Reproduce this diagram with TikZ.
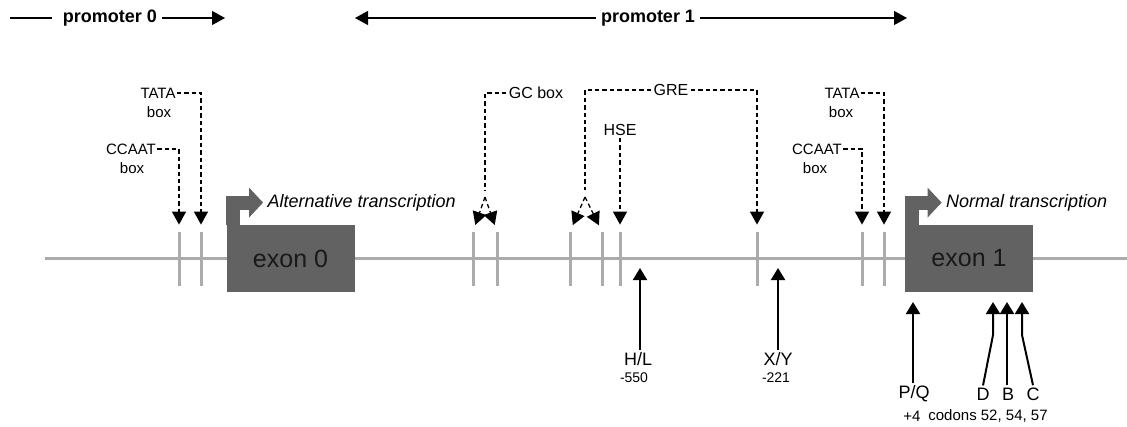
\documentclass[tikz,border=0pt]{standalone}
\usepackage{fontspec}
\setmainfont{Liberation Sans}
\usetikzlibrary{arrows.meta,positioning,calc}
\definecolor{dnagray}{HTML}{ABABAB}
\definecolor{exongray}{HTML}{626262}
\tikzset{>={Triangle[length=6.5pt,width=7pt]}}

\begin{document}
\begin{tikzpicture}[x=0.5pt,y=-0.5pt,
   tick/.style={fill=dnagray,minimum width=1.5pt,minimum height=27pt,inner sep=0},
   exon/.style={fill=exongray,minimum width=64pt,minimum height=33.5pt,inner sep=0,font=\fontsize{12.5}{14}\selectfont,text=black!90},
   bent/.style={line width=7pt,exongray,-{Triangle[length=7pt,width=14.5pt]}},
   tr/.style={font=\fontsize{9}{10}\selectfont\itshape,inner sep=1pt},
   site/.style={font=\fontsize{7.5}{8.5}\selectfont,inner sep=0.5pt},
   fac/.style={font=\fontsize{8}{9.5}\selectfont,inner sep=1pt},
   mut/.style={font=\fontsize{9}{10}\selectfont,inner sep=1pt},
   num/.style={font=\fontsize{7}{8}\selectfont,inner sep=1pt},
   prom/.style={font=\fontsize{9}{10}\selectfont\bfseries,inner sep=2.5pt},
   dsh/.style={dash pattern=on 2.2pt off 1.5pt,line width=0.65pt,->,shorten >=3.5pt},
   up/.style={line width=1pt,-{Triangle[length=6pt,width=7pt]}},
   pr/.style={line width=0.6pt}]
  \useasboundingbox (0,0) rectangle (1127,427);
  % promoter ranges
  \coordinate (p0a) at (10,18);
  \coordinate (p0b) at (225,18);
  \node[prom] (p0) at (110,18) {promoter 0};
  \draw[pr] (p0a) -- ++(42,0);
  \draw[pr,->] (p0.east) -- (p0b);
  \coordinate (p1a) at (355,18);
  \coordinate (p1b) at (907,18);
  \node[prom] (p1) at (648,18) {promoter 1};
  \draw[pr,->] (p1.west) -- (p1a);
  \draw[pr,->] (p1.east) -- (p1b);
  % dna strand
  \coordinate (dnaa) at (45,258);
  \coordinate (dnab) at (1127,258);
  \draw[dnagray,line width=1.5pt] (dnaa) -- (dnab);
  \node[tick] (ccaat0) at (179,259) {};
  \node[tick] (tata0) at (201,259) {};
  \node[tick] (gc1) at (473,259) {};
  \node[tick] (gc2) at (497,259) {};
  \node[tick] (gre1) at (570,259) {};
  \node[tick] (gre2) at (602,259) {};
  \node[tick] (hse) at (620,259) {};
  \node[tick] (gre3) at (757,259) {};
  \node[tick] (ccaat1) at (862,259) {};
  \node[tick] (tata1) at (884,259) {};
  \node[exon] (ex0) at (290.5,258.5) {exon 0};
  \node[exon] (ex1) at (969,258.5) {exon 1};
  \draw[bent] ([xshift=3.5pt]ex0.north west) -- ++(0,-22) -- ++(30,0) coordinate (alttip);
  \draw[bent] ([xshift=3.5pt]ex1.north west) -- ++(0,-22) -- ++(30,0) coordinate (normtip);
  \node[tr,anchor=west] (alt) at ([xshift=1pt]alttip) {Alternative transcription};
  \node[tr,anchor=west] (norm) at ([xshift=1pt]normtip) {Normal transcription};
  % binding sites
  \node[site] (lccaat0) at (131,149) {CCAAT};
  \node[site] (bccaat0) at (132,168) {box};
  \node[site] (ltata0) at (158,93) {TATA};
  \node[site] (btata0) at (159,112) {box};
  \node[site] (lccaat1) at (817,149) {CCAAT};
  \node[site] (bccaat1) at (815,168) {box};
  \node[site] (ltata1) at (842,93) {TATA};
  \node[site] (btata1) at (841,112) {box};
  \node[fac] (lgc) at (536,93) {GC box};
  \node[fac] (lgre) at (671,90) {GRE};
  \node[fac] (lhse) at (620,130) {HSE};
  \coordinate (gcsplit) at (485,197);
  \coordinate (gresplit) at (585,197);
  \draw[dsh] (lccaat0.east) -| (ccaat0.north);
  \draw[dsh] (ltata0.east) -| (tata0.north);
  \draw[dsh] (lccaat1.east) -| (ccaat1.north);
  \draw[dsh] (ltata1.east) -| (tata1.north);
  \draw[dsh,-] (lgc.west) -| (gcsplit);
  \draw[dsh] (gcsplit) -- (gc1.north);
  \draw[dsh] (gcsplit) -- (gc2.north);
  \draw[dsh,-] (lgre.west) -| (gresplit);
  \draw[dsh] (gresplit) -- (gre1.north);
  \draw[dsh] (gresplit) -- (gre2.north);
  \draw[dsh] (lgre.east) -| (gre3.north);
  \draw[dsh] (lhse.south) -- (hse.north);
  % polymorphisms
  \coordinate (sitehl) at (640,268);
  \coordinate (sitexy) at (778,268);
  \coordinate (sitepq) at (913,302);
  \coordinate (sited) at (993,302);
  \coordinate (siteb) at (1007,302);
  \coordinate (sitec) at (1022,302);
  \node[mut] (lhl) at (638,359) {H/L};
  \node[num] (nhl) at (634,378) {-550};
  \node[mut] (lxy) at (778,359) {X/Y};
  \node[num] (nxy) at (776,378) {-221};
  \node[mut] (lpq) at (914,394) {P/Q};
  \node[mut] (ld) at (983,394) {D};
  \node[mut] (lb) at (1008,394) {B};
  \node[mut] (lc) at (1033,394) {C};
  \node[num,font=\fontsize{7.5}{8.5}\selectfont] (npq) at (912,416) {+4};
  \node[num,font=\fontsize{7.5}{8.5}\selectfont] (ncod) at (988,416) {codons 52, 54, 57};
  \draw[up] (lhl.north -| sitehl) -- (sitehl);
  \draw[up] (lxy.north -| sitexy) -- (sitexy);
  \draw[up] (lpq.north -| sitepq) -- (sitepq);
  \draw[up] (ld.north) -- ($(sited)+(0,33)$) -- (sited);
  \draw[up] (lb.north -| siteb) -- (siteb);
  \draw[up] (lc.north) -- ($(sitec)+(0,33)$) -- (sitec);
\end{tikzpicture}
\end{document}
